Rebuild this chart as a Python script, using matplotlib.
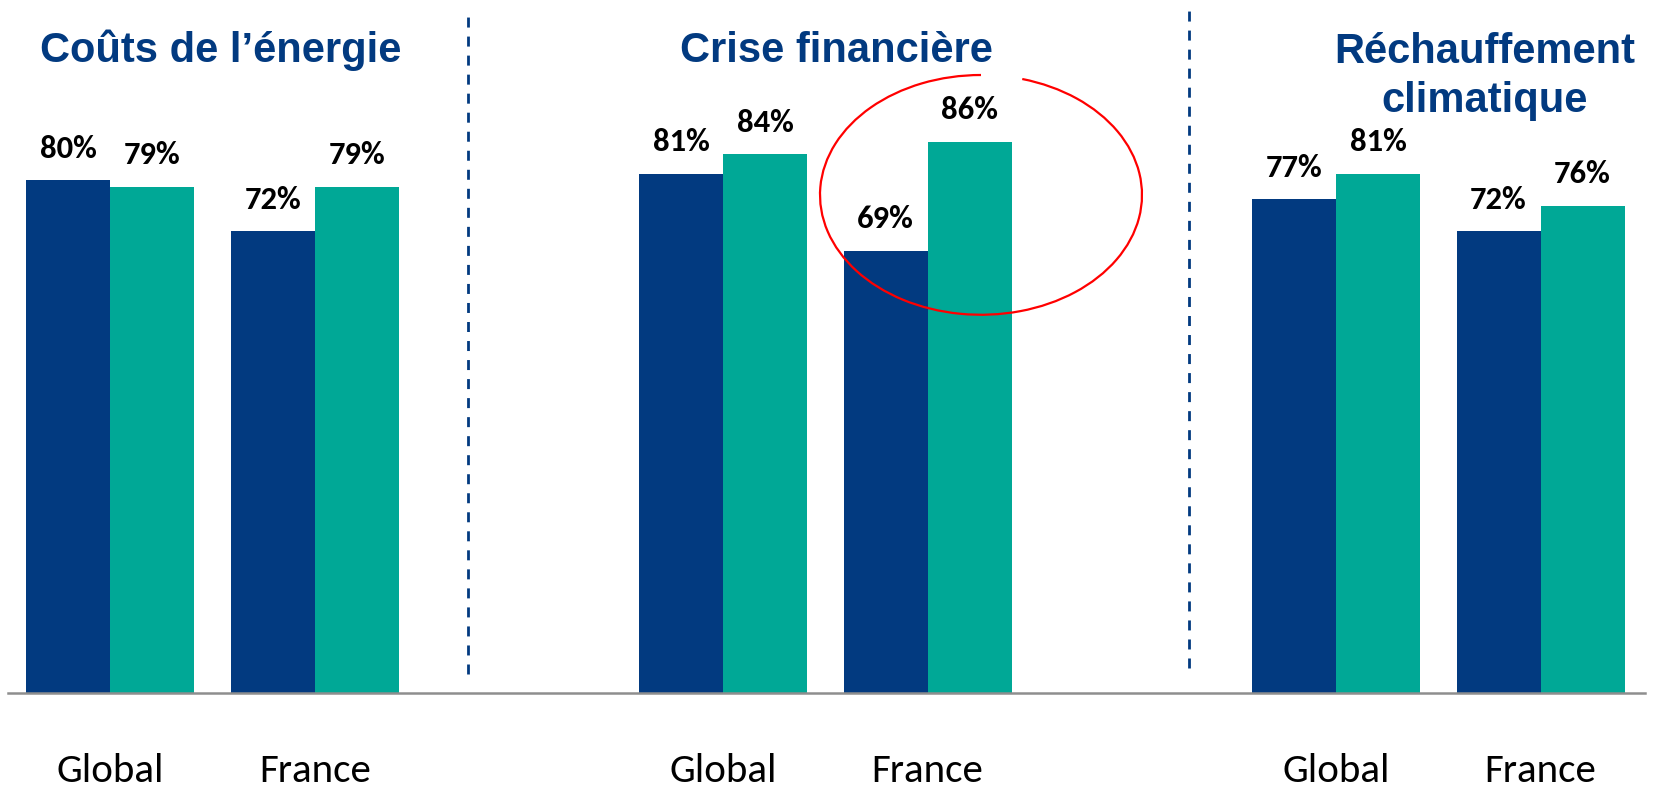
import numpy as np
import matplotlib.pyplot as plt
from matplotlib.patches import Arc

# Data
themes = ["Coûts de l’énergie", "Crise financière", "Réchauffement\nclimatique"]
regions = ["Global", "France"]
navy_vals = [80, 72, 81, 69, 77, 72]
teal_vals = [79, 79, 84, 86, 81, 76]

navy = "#023A80"
teal = "#00A896"
label_fam = ["Carlito", "DejaVu Sans"]

fig = plt.figure(figsize=(16.53, 7.87), dpi=100)
ax = fig.add_axes([8.3 / 1653, 94 / 787, 1636.7 / 1653, 693 / 787])

# category positions: two regions per theme, a gap between themes
x = np.array([g * 3 + i for g in range(len(themes)) for i in range(len(regions))], dtype=float)
w = 0.411

b1 = ax.bar(x - w / 2, navy_vals, w, color=navy)
b2 = ax.bar(x + w / 2, teal_vals, w, color=teal)

for bars in (b1, b2):
    ax.bar_label(bars, fmt="{:.0f}%", padding=12.5, fontsize=23.5, fontweight="bold",
                 fontfamily=label_fam, color="black")

ax.set_xlim(-0.5, 7.511)
ax.set_ylim(0, 108.1)

ax.set_xticks(x)
ax.set_xticklabels(regions * len(themes), fontsize=29.5, fontfamily=label_fam)
ax.tick_params(axis="x", length=0, pad=43)
ax.set_yticks([])

for s in ["top", "right", "left"]:
    ax.spines[s].set_visible(False)
ax.spines["bottom"].set_color("#8E8E8E")
ax.spines["bottom"].set_linewidth(1.8)

# theme titles (va=baseline anchors the last line of a wrapped title)
title_x = [0.538, 3.555, 6.728]
for tx, t in zip(title_x, themes):
    ty = 98.4 - 7.8 * t.count("\n")
    ax.text(tx, ty, t, ha="center", va="baseline", color=navy, fontsize=30,
            fontweight="bold", fontfamily="Liberation Sans", linespacing=1.3, multialignment="center")

# dashed separators
ax.vlines([1.75], 2.96, 106.2, colors=navy, linewidth=2, linestyles=(0, (3.6, 3.25)))
ax.vlines([5.279], 3.9, 107.3, colors=navy, linewidth=2, linestyles=(0, (3.6, 3.25)))

# red highlight ellipse around France / Crise financière
ax.add_patch(Arc((4.261, 77.7), 1.576, 37.4, theta1=90, theta2=449.36,
                 color="#FF0000", linewidth=1.6, clip_on=False))

fig.savefig("out.png", dpi=100)
